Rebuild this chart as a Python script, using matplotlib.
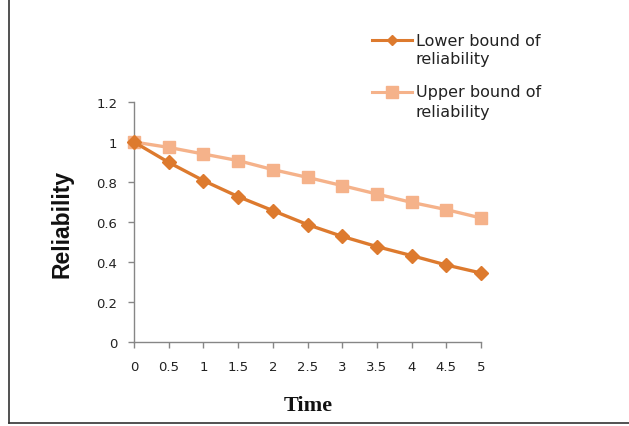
import matplotlib
matplotlib.use("Agg")
import matplotlib.pyplot as plt
from matplotlib.lines import Line2D

time = [0, 0.5, 1, 1.5, 2, 2.5, 3, 3.5, 4, 4.5, 5]
lower_bound = [1.0, 0.898, 0.807, 0.727, 0.657, 0.587, 0.528, 0.477, 0.432, 0.385, 0.345]
upper_bound = [1.0, 0.973, 0.94, 0.907, 0.862, 0.823, 0.782, 0.74, 0.698, 0.662, 0.62]
x_tick_labels = ["0", "0.5", "1", "1.5", "2", "2.5", "3", "3.5", "4", "4.5", "5"]
y_ticks = [0, 0.2, 0.4, 0.6, 0.8, 1, 1.2]
y_tick_labels = ["0", "0.2", "0.4", "0.6", "0.8", "1", "1.2"]

c_low = "#DD7A2E"
c_up = "#F5B28A"
axis_col = "#868686"
tick_font = "DejaVu Sans"

fig = plt.figure(figsize=(6.29, 4.27), dpi=100)
ax = fig.add_axes([134/629, 1-343/427, (481-134)/629, (343-103)/427])

ax.plot(time, upper_bound, color=c_up, lw=2.4, marker="s", ms=9, mec=c_up, mfc=c_up, zorder=3, clip_on=False)
ax.plot(time, lower_bound, color=c_low, lw=2.4, marker="D", ms=7, mec=c_low, mfc=c_low, zorder=4, clip_on=False)

ax.set_xlim(0, 5)
ax.set_ylim(0, 1.2)
ax.set_xticks(time)
ax.set_xticklabels(x_tick_labels)
ax.set_yticks(y_ticks)
ax.set_yticklabels(y_tick_labels)
for s in ["top", "right"]:
    ax.spines[s].set_visible(False)
for s in ["left", "bottom"]:
    ax.spines[s].set_color(axis_col)
    ax.spines[s].set_linewidth(1.0)
ax.tick_params(axis="both", colors=axis_col, length=4, width=1, labelcolor="#222222", labelsize=9.5)
ax.tick_params(axis="x", pad=9)
ax.tick_params(axis="y", pad=8)
for lab in ax.get_xticklabels() + ax.get_yticklabels():
    lab.set_fontfamily(tick_font)
ax.patch.set_alpha(0)

fig.text(62/629, 1-224/427, "Reliability", rotation=90, ha="center", va="center",
         fontsize=16.5, fontweight="bold", family="Liberation Sans", color="#111111")
fig.text(308/629, 1-406/427, "Time", ha="center", va="center",
         fontsize=16, fontweight="bold", family="Liberation Serif", color="#111111")

# legend drawn in figure coordinates
def leg_entry(y_px, color, marker, ms, label):
    y = 1 - y_px/427
    fig.add_artist(Line2D([372/629, 412/629], [y, y], color=color, lw=2.2, transform=fig.transFigure))
    fig.add_artist(Line2D([392/629], [y], color=color, marker=marker, ms=ms, mec=color, mfc=color,
                          transform=fig.transFigure))
    first, second = label.split("\n")
    fig.text(416/629, y, first, ha="left", va="center", fontsize=11.5,
             family=tick_font, color="#222222")
    fig.text(416/629, 1 - (y_px + 19)/427, second, ha="left", va="center", fontsize=11.5,
             family=tick_font, color="#222222")

leg_entry(41, c_low, "D", 5.5, "Lower bound of\nreliability")
leg_entry(93, c_up, "s", 8, "Upper bound of\nreliability")

# outer frame (left and bottom)
fig.add_artist(Line2D([9/629, 9/629], [1-424/427, 1.0], color="#333333", lw=1.2, transform=fig.transFigure))
fig.add_artist(Line2D([9/629, 1.0], [1-424/427, 1-424/427], color="#333333", lw=1.2, transform=fig.transFigure))

fig.savefig("out.png", dpi=100)
